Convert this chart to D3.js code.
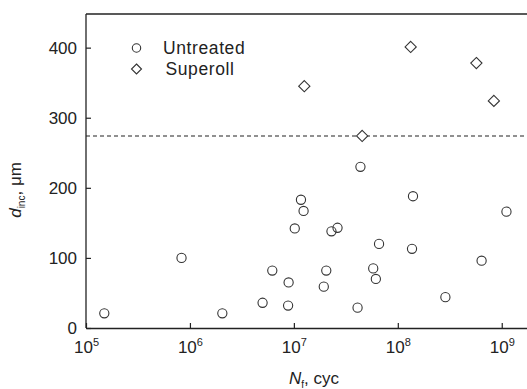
<!DOCTYPE html>
<html>
<head>
<meta charset="utf-8">
<script src="https://cdn.jsdelivr.net/npm/d3@7"></script>
<style>
  html, body { margin: 0; padding: 0; background: #fff; }
  svg { display: block; }
  text { font-family: "Liberation Sans", Arial, sans-serif; fill: #222; }
</style>
</head>
<body>
<svg id="chart" width="527" height="389"></svg>
<script>
// Crack depth at inclusion vs. fatigue life
const untreatedN = [1.5e5, 8.3e5, 2.05e6, 5.0e6, 6.2e6, 8.9e6, 8.8e6, 1.02e7, 1.17e7, 1.24e7,
                    1.94e7, 2.05e7, 2.3e7, 2.63e7, 4.1e7, 4.37e7, 5.8e7, 6.15e7, 6.6e7,
                    1.37e8, 1.40e8, 2.87e8, 6.4e8, 1.11e9];
const untreatedD = [21, 100, 21, 36, 82, 65, 32, 142, 183, 167,
                    59, 82, 138, 143, 29, 230, 85, 70, 120,
                    113, 188, 44, 96, 166];
const superollN = [1.26e7, 4.54e7, 1.33e8, 5.7e8, 8.4e8];
const superollD = [345, 274, 401, 378, 324];
const thresholdD = 274;
const xTickExps = [5, 6, 7, 8, 9];
const yTicks = [0, 100, 200, 300, 400];
const seriesNames = ["Untreated", "Superoll"];

const svg = d3.select("#chart");
const plotL = 86, plotR = 527, plotT = 14, plotB = 328;
const ink = "#222";
const fs = 17;

const x = d3.scaleLog().domain([1e5, 1.75e9]).range([plotL, plotR]);
const y = d3.scaleLinear().domain([0, 448]).range([plotB, plotT]);

// frame: top border line
svg.append("line")
  .attr("x1", plotL).attr("x2", plotR).attr("y1", plotT).attr("y2", plotT)
  .attr("stroke", ink).attr("stroke-width", 1.3);

// x axis with inward ticks
const xAxis = svg.append("g")
  .attr("transform", `translate(0,${plotB})`)
  .call(d3.axisBottom(x).tickValues(xTickExps.map(e => Math.pow(10, e)))
        .tickSizeInner(-5).tickSizeOuter(0).tickFormat(""));
xAxis.select(".domain").attr("stroke", ink).attr("stroke-width", 1.3);
xAxis.selectAll(".tick line").attr("stroke", ink).attr("stroke-width", 1.2);
xAxis.selectAll(".tick text").remove();
xAxis.selectAll(".tick").each(function(d, i) {
  const t = d3.select(this).append("text")
    .attr("y", 25).attr("text-anchor", "middle")
    .attr("font-size", fs).attr("fill", ink);
  t.append("tspan").text("10");
  t.append("tspan").attr("dy", -7).attr("font-size", 11).text(xTickExps[i]);
});

// y axis with inward ticks
const yAxis = svg.append("g")
  .attr("transform", `translate(${plotL},0)`)
  .call(d3.axisLeft(y).tickValues(yTicks).tickSizeInner(-5).tickSizeOuter(0)
        .tickPadding(9));
yAxis.select(".domain").attr("stroke", ink).attr("stroke-width", 1.3)
  .attr("d", `M0,${plotT}V${plotB}`);
yAxis.selectAll(".tick line").attr("stroke", ink).attr("stroke-width", 1.2);
yAxis.selectAll(".tick text")
  .attr("font-size", fs).attr("font-family", "Liberation Sans, Arial, sans-serif")
  .attr("fill", ink);

// threshold line
svg.append("line")
  .attr("x1", plotL).attr("x2", plotR)
  .attr("y1", y(thresholdD)).attr("y2", y(thresholdD))
  .attr("stroke", ink).attr("stroke-width", 1.1)
  .attr("stroke-dasharray", "4,3");

// markers
const circleR = 4.6, diamondR = 5.6;
function diamondPath(cx, cy, r) {
  return `M${cx},${cy - r}L${cx + r},${cy}L${cx},${cy + r}L${cx - r},${cy}Z`;
}

svg.append("g").selectAll("circle")
  .data(untreatedN.map((n, i) => [n, untreatedD[i]]))
  .join("circle")
  .attr("cx", d => x(d[0])).attr("cy", d => y(d[1])).attr("r", circleR)
  .attr("fill", "none").attr("stroke", "#333").attr("stroke-width", 1.1);

svg.append("g").selectAll("path")
  .data(superollN.map((n, i) => [n, superollD[i]]))
  .join("path")
  .attr("d", d => diamondPath(x(d[0]), y(d[1]), diamondR))
  .attr("fill", "#fff").attr("stroke", "#333").attr("stroke-width", 1.1);

// legend
const legend = svg.append("g");
legend.append("circle").attr("cx", 136.5).attr("cy", 48).attr("r", 4.2)
  .attr("fill", "none").attr("stroke", "#333").attr("stroke-width", 1.1);
legend.append("path").attr("d", diamondPath(136.5, 69, 5))
  .attr("fill", "none").attr("stroke", "#333").attr("stroke-width", 1.1);
legend.append("text").attr("x", 163).attr("y", 53.5).attr("font-size", 17.5)
  .attr("letter-spacing", 0.6).attr("fill", ink).text(seriesNames[0]);
legend.append("text").attr("x", 165.5).attr("y", 75).attr("font-size", 17.5)
  .attr("letter-spacing", 0.6).attr("fill", ink).text(seriesNames[1]);

// axis titles
const xt = svg.append("text").attr("x", 314).attr("y", 384)
  .attr("text-anchor", "middle").attr("font-size", fs).attr("fill", ink);
xt.append("tspan").attr("font-style", "italic").text("N");
xt.append("tspan").attr("font-size", 10).attr("dy", 4).text("f");
xt.append("tspan").attr("dy", -4).text(", cyc");

const yt = svg.append("text")
  .attr("transform", "translate(21,190) rotate(-90)")
  .attr("text-anchor", "middle").attr("font-size", fs).attr("fill", ink);
yt.append("tspan").attr("font-style", "italic").text("d");
yt.append("tspan").attr("font-size", 10).attr("dy", 4).text("inc");
yt.append("tspan").attr("dy", -4).text(", μm");
</script>
</body>
</html>
